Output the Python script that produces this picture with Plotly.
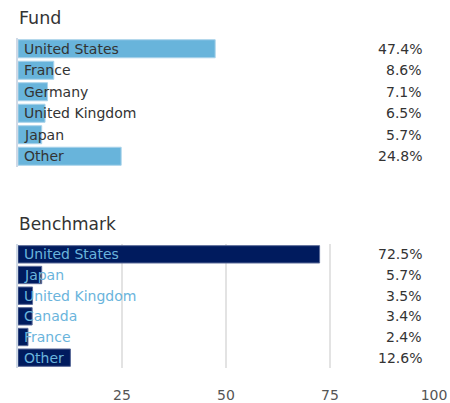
import plotly.graph_objects as go

fund_countries = ["United States", "France", "Germany", "United Kingdom", "Japan", "Other"]
fund_values = [47.4, 8.6, 7.1, 6.5, 5.7, 24.8]
fund_labels = ["47.4%", "8.6%", "7.1%", "6.5%", "5.7%", "24.8%"]

bench_countries = ["United States", "Japan", "United Kingdom", "Canada", "France", "Other"]
bench_values = [72.5, 5.7, 3.5, 3.4, 2.4, 12.6]
bench_labels = ["72.5%", "5.7%", "3.5%", "3.4%", "2.4%", "12.6%"]

x_ticks = [25, 50, 75, 100]

FONT = "DejaVu Sans"
fund_color = "#68b4db"
bench_color = "#001b5e"
W, H = 450, 403
L, PW = 18, 416

fig = go.Figure()
fig.add_trace(go.Bar(y=fund_countries, x=fund_values, orientation="h",
                     marker=dict(color=fund_color, line=dict(color="#a9d3ea", width=1)),
                     xaxis="x", yaxis="y", hoverinfo="skip"))
fig.add_trace(go.Bar(y=bench_countries, x=bench_values, orientation="h",
                     marker=dict(color=bench_color, line=dict(color="#5a6a98", width=1)),
                     xaxis="x2", yaxis="y2", hoverinfo="skip"))

annotations = []
for c, lab in zip(fund_countries, fund_labels):
    annotations.append(dict(x=0, y=c, xref="x", yref="y", text=c, showarrow=False,
                            xanchor="left", xshift=4, font=dict(family=FONT, size=14, color="#333333")))
    annotations.append(dict(x=(424 - L) / PW, y=c, xref="paper", yref="y", text=lab, showarrow=False,
                            xanchor="right", font=dict(family=FONT, size=14, color="#333333")))
for c, lab in zip(bench_countries, bench_labels):
    annotations.append(dict(x=0, y=c, xref="x2", yref="y2", text=c, showarrow=False,
                            xanchor="left", xshift=4, font=dict(family=FONT, size=14, color="#6ab4dc")))
    annotations.append(dict(x=(424 - L) / PW, y=c, xref="paper", yref="y2", text=lab, showarrow=False,
                            xanchor="right", font=dict(family=FONT, size=14, color="#333333")))

annotations.append(dict(x=(17 - L) / PW, y=1 - 18 / H, xref="paper", yref="paper", text="Fund", showarrow=False,
                        xanchor="left", yanchor="middle",
                        font=dict(family=FONT, size=17.5, color="#333333")))
annotations.append(dict(x=(17 - L) / PW, y=1 - 224 / H, xref="paper", yref="paper", text="Benchmark", showarrow=False,
                        xanchor="left", yanchor="middle",
                        font=dict(family=FONT, size=17, color="#333333")))

fig.update_layout(
    width=W, height=H,
    margin=dict(l=L, r=W - L - PW, t=0, b=0),
    paper_bgcolor="white", plot_bgcolor="white",
    showlegend=False, bargap=0.16,
    xaxis=dict(domain=[0, 1], range=[0, 100], anchor="y", showgrid=False, showticklabels=False,
               zeroline=False, fixedrange=True),
    yaxis=dict(domain=[1 - 167 / H, 1 - 38 / H], autorange="reversed", showticklabels=False,
               showline=True, linecolor="#cfd9e6", linewidth=2, showgrid=False, zeroline=False),
    xaxis2=dict(domain=[0, 1], range=[0, 100], anchor="y2", showgrid=True, gridcolor="#e3e3e3",
                gridwidth=2, tickvals=x_ticks, ticks="outside", ticklen=14, tickcolor="rgba(0,0,0,0)",
                tickfont=dict(family=FONT, size=14, color="#555555"), zeroline=False),
    yaxis2=dict(domain=[1 - 368 / H, 1 - 244 / H], autorange="reversed", showticklabels=False,
                showline=True, linecolor="#cfd9e6", linewidth=2, showgrid=False, zeroline=False),
    annotations=annotations,
)

fig.write_html("out.html", config={"displayModeBar": False},
               post_script="document.body.style.margin='0';document.body.style.overflow='hidden';")
